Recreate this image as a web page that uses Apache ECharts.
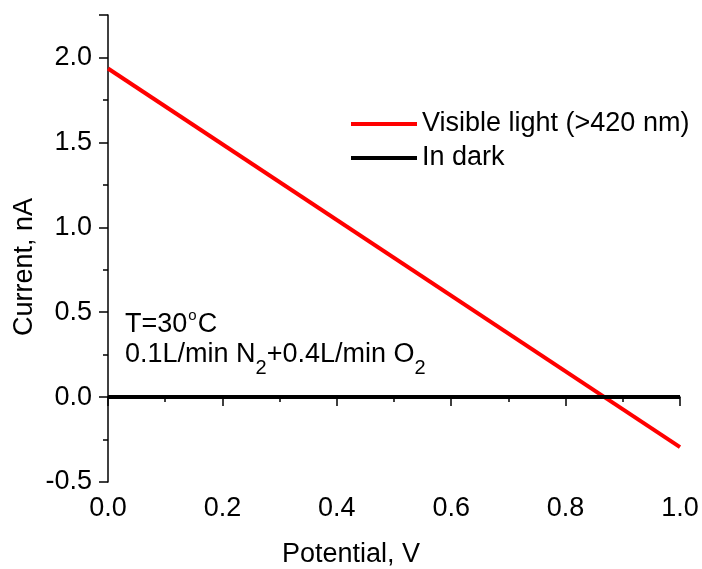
<!DOCTYPE html>
<html>
<head>
<meta charset="utf-8">
<script src="https://cdn.jsdelivr.net/npm/echarts@6/dist/echarts.min.js"></script>
<style>html,body{margin:0;padding:0;background:#fff}#c{width:702px;height:569px}</style>
</head>
<body>
<div id="c"></div>
<script>
// Data
const potential = [0.0, 1.0];
const lightCurrent = [1.935, -0.295];
const darkCurrent = [0.0, 0.0];
const seriesNames = ['Visible light (>420 nm)', 'In dark'];
const xTicks = [0.0, 0.2, 0.4, 0.6, 0.8, 1.0];
const yTicks = [-0.5, 0.0, 0.5, 1.0, 1.5, 2.0];

const FONT = '"Liberation Sans", Arial, sans-serif';
const richMain = { fontSize: 27, lineHeight: 27, fontFamily: FONT, color: '#000', fill: '#000', verticalAlign: 'top' };
const richMainPad = Object.assign({}, richMain, { padding: [3, 0, 0, 0] });
const chart = echarts.init(document.getElementById('c'));
chart.setOption({
  animation: false,
  backgroundColor: '#fff',
  textStyle: { fontFamily: FONT },
  grid: { left: 108, right: 22, top: 15, bottom: 87 },
  legend: {
    orient: 'vertical',
    left: 351, top: 109, padding: 0,
    icon: 'rect', itemWidth: 66, itemHeight: 4, itemGap: 4,
    textStyle: { fontSize: 27, fontFamily: FONT, color: '#000', lineHeight: 30 },
    data: seriesNames
  },
  xAxis: {
    type: 'value', min: 0, max: 1.0, interval: 0.2,
    axisLine: { lineStyle: { color: '#000', width: 1.5 } },
    axisTick: { show: true, length: 9, lineStyle: { color: '#000', width: 1.5 } },
    minorTick: { show: true, splitNumber: 2, length: 5, lineStyle: { color: '#000', width: 1.5 } },
    splitLine: { show: false },
    axisLabel: { fontSize: 27, color: '#000', margin: 13, fontFamily: FONT,
      formatter: v => xTicks.some(t => Math.abs(t - v) < 1e-9) ? v.toFixed(1) : '' }
  },
  yAxis: {
    type: 'value', min: -0.5, max: 2.25, interval: 0.5,
    axisLine: { show: true, lineStyle: { color: '#000', width: 1.5 } },
    axisTick: { show: true, length: 9, lineStyle: { color: '#000', width: 1.5 } },
    minorTick: { show: true, splitNumber: 2, length: 5, lineStyle: { color: '#000', width: 1.5 } },
    splitLine: { show: false },
    axisLabel: { fontSize: 27, color: '#000', margin: 16, fontFamily: FONT,
      formatter: v => yTicks.some(t => Math.abs(t - v) < 1e-9) ? v.toFixed(1) : '' }
  },
  series: [
    { name: seriesNames[0], type: 'line', symbol: 'none', color: '#ff0000',
      lineStyle: { width: 4, color: '#ff0000' },
      data: potential.map((x, i) => [x, lightCurrent[i]]) },
    { name: seriesNames[1], type: 'line', symbol: 'none', color: '#000000',
      lineStyle: { width: 4, color: '#000000' },
      data: potential.map((x, i) => [x, darkCurrent[i]]) }
  ],
  graphic: [
    { type: 'text', left: 'center', top: 541,
      style: { text: 'Potential, V', fontSize: 27, fontFamily: FONT, fill: '#000' } },
    { type: 'text', x: 25, y: 267, rotation: Math.PI / 2,
      style: { text: 'Current, nA', fontSize: 27, fontFamily: FONT, fill: '#000', align: 'center', verticalAlign: 'middle' } },
    { type: 'text', x: 125, y: 308,
      style: { text: '{m|T=30}{sup|o}{m|C}', fontSize: 27, fontFamily: FONT, fill: '#000', verticalAlign: 'top',
        rich: { m: richMainPad,
          sup: { fontSize: 15, lineHeight: 15, fontFamily: FONT, fill: '#000', verticalAlign: 'top', padding: [0, 1, 0, 1] } } } },
    { type: 'text', x: 125, y: 341,
      style: { text: '{m|0.1L/min N}{sub|2}{m|+0.4L/min O}{sub|2}', fontSize: 27, fontFamily: FONT, fill: '#000', verticalAlign: 'top',
        rich: { m: richMain,
          sub: { fontSize: 20, lineHeight: 20, fontFamily: FONT, fill: '#000', verticalAlign: 'top', padding: [17, 0, 0, 0] } } } }
  ]
});
</script>
</body>
</html>
